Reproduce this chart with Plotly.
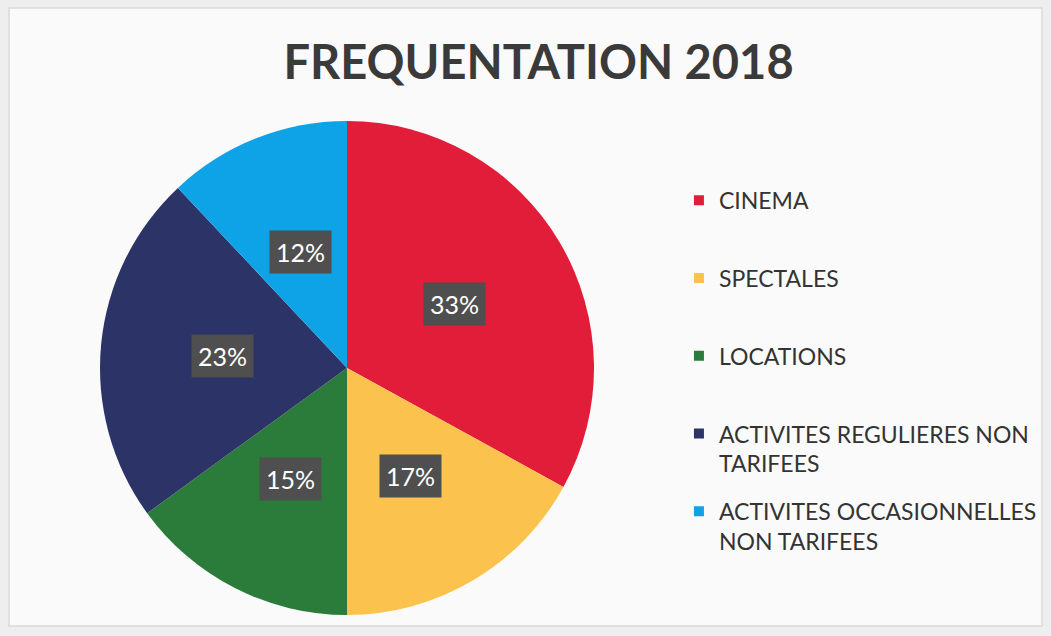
import textwrap
import numpy as np
import plotly.graph_objects as go

# ---- data ----
categories = ["CINEMA", "SPECTALES", "LOCATIONS",
              "ACTIVITES REGULIERES NON TARIFEES",
              "ACTIVITES OCCASIONNELLES NON TARIFEES"]
values = [33, 17, 15, 23, 12]
colors = ["#E11D3A", "#FCC24E", "#2B7C3B", "#2C3366", "#0EA2E6"]
title_text = "FREQUENTATION 2018"

W, H = 1051, 636
# pie geometry (pixels)
cx, cy, R = 347, 368, 247
FONT = "Lato, Open Sans, sans-serif"


def legend_label(name, lines_total=2):
    parts = textwrap.wrap(name, 25)
    pad = lines_total - len(parts)
    return "<br>".join(parts + [" "] * pad)


legend_labels = [legend_label(c) for c in categories]

fig = go.Figure()
fig.add_trace(go.Pie(
    labels=categories,
    values=values,
    sort=False,
    direction="clockwise",
    rotation=0,
    marker=dict(colors=colors, line=dict(width=0)),
    textinfo="none",
    hoverinfo="label+percent",
    showlegend=False,
    domain=dict(x=[(cx - R) / W, (cx + R) / W], y=[1 - (cy + R) / H, 1 - (cy - R) / H]),
))

# legend entries (one group per category so they can be evenly spaced)
for i, (lab, col) in enumerate(zip(legend_labels, colors)):
    fig.add_trace(go.Scatter(
        x=[None], y=[None], mode="markers", name=lab,
        marker=dict(symbol="square", size=10, color=col),
        legendgroup=f"g{i}", showlegend=True, hoverinfo="skip",
    ))

# percentage labels in dark boxes, placed at slice mid-angles
vals = np.array(values, dtype=float)
frac = vals / vals.sum()
mids = np.cumsum(frac) - frac / 2
for f, m in zip(frac, mids):
    ang = 2 * np.pi * m
    r = 0.506 * R
    px = cx + r * np.sin(ang)
    py = cy - r * np.cos(ang)
    fig.add_annotation(
        x=px / W, y=1 - py / H, xref="paper", yref="paper",
        xanchor="center", yanchor="middle",
        text=f"{round(f * 100)}%", showarrow=False,
        font=dict(family=FONT, size=25, color="white"),
        bgcolor="#4F4F4F", borderpad=6,
    )

fig.update_layout(
    width=W, height=H,
    margin=dict(l=0, r=0, t=0, b=0),
    paper_bgcolor="#EEEEEE",
    plot_bgcolor="rgba(0,0,0,0)",
    xaxis=dict(visible=False),
    yaxis=dict(visible=False),
    title=dict(text=f"<b>{title_text}</b>", x=0.5124, xanchor="center", y=0.902, yanchor="middle",
               font=dict(family=FONT, size=47, color="#3A3A3A")),
    legend=dict(
        x=0.646, xanchor="left", y=0.719, yanchor="top",
        valign="top", tracegroupgap=15, traceorder="grouped",
        font=dict(family=FONT, size=23, color="#333333"),
        bgcolor="rgba(0,0,0,0)",
        itemwidth=30,
    ),
    shapes=[dict(type="rect", xref="paper", yref="paper", x0=9 / W, x1=1042 / W, y0=1 - 626 / H, y1=1 - 8 / H,
                 line=dict(color="#DADADA", width=1.5), fillcolor="#FAFAFA", layer="below")],
)

fig.write_html("out.html", config={"displayModeBar": False},
               post_script="document.body.style.margin='0';")
